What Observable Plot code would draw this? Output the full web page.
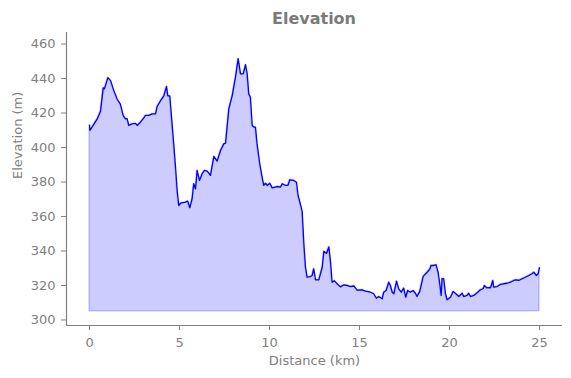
<!DOCTYPE html>
<html>
<head>
<meta charset="utf-8">
<script src="https://cdn.jsdelivr.net/npm/d3@7"></script>
<script src="https://cdn.jsdelivr.net/npm/@observablehq/plot@0.6"></script>
<style>
  html, body { margin: 0; padding: 0; background: #fff; }
  #title { width: 628px; height: 32px; line-height: 37px; text-align: center;
    font-family: "DejaVu Sans", sans-serif; font-weight: bold; font-size: 16px; color: #7a7a7a; }
</style>
</head>
<body>
<div id="title">Elevation</div>
<div id="chart"></div>
<script>
const distance = [0, 0.02, 0.15, 0.43, 0.61, 0.76, 0.83, 1.02, 1.17, 1.35, 1.54, 1.72, 1.87, 2.0, 2.09, 2.18, 2.37, 2.56, 2.65, 2.83, 3.02, 3.11, 3.3, 3.48, 3.67, 3.76, 3.94, 4.13, 4.28, 4.35, 4.46, 4.68, 4.78, 4.87, 4.96, 5.06, 5.33, 5.46, 5.57, 5.7, 5.79, 5.89, 5.98, 6.11, 6.26, 6.39, 6.54, 6.72, 6.91, 7.09, 7.28, 7.46, 7.56, 7.74, 7.93, 8.11, 8.26, 8.39, 8.54, 8.67, 8.76, 8.85, 8.94, 9.04, 9.13, 9.22, 9.31, 9.46, 9.59, 9.68, 9.78, 9.87, 10.02, 10.15, 10.43, 10.61, 10.71, 10.89, 11.02, 11.13, 11.35, 11.5, 11.59, 11.76, 11.82, 11.91, 12.0, 12.09, 12.28, 12.37, 12.46, 12.56, 12.74, 12.93, 13.02, 13.17, 13.3, 13.39, 13.48, 13.61, 13.76, 13.94, 14.13, 14.31, 14.5, 14.69, 14.87, 15.15, 15.33, 15.61, 15.79, 15.94, 16.07, 16.26, 16.35, 16.48, 16.63, 16.72, 16.82, 16.91, 17.06, 17.18, 17.32, 17.46, 17.57, 17.68, 17.83, 17.98, 18.11, 18.2, 18.35, 18.54, 18.76, 18.91, 18.98, 19.13, 19.26, 19.37, 19.46, 19.54, 19.59, 19.68, 19.78, 19.87, 20.06, 20.2, 20.33, 20.52, 20.71, 20.79, 20.98, 21.07, 21.17, 21.35, 21.57, 21.72, 21.87, 21.94, 22.06, 22.28, 22.41, 22.46, 22.65, 22.83, 23.02, 23.2, 23.39, 23.57, 23.72, 23.85, 24.04, 24.22, 24.41, 24.59, 24.69, 24.83, 24.93, 25.0];
const elevation = [413, 410, 412, 416.6, 421, 434.6, 434, 440.5, 438.8, 433, 428, 425, 418.6, 416.6, 416.8, 412.8, 413.7, 414, 412.8, 414.7, 417.2, 418.6, 418.6, 419.5, 419.5, 423.8, 427, 430, 435.5, 430, 430, 402, 388.6, 375, 366.4, 367.7, 368.3, 368.9, 365, 370.3, 379, 376, 386.7, 380.9, 384.8, 386.7, 386.3, 383.8, 394.8, 392.1, 398.3, 402.1, 402.5, 422.4, 430.1, 440.8, 451.5, 442.7, 442.7, 448, 442.7, 431.1, 429.2, 412.8, 411.8, 411.8, 402.1, 390.6, 382.8, 378, 379.3, 378, 379.3, 376.6, 377.4, 377, 379, 378, 378, 381.3, 380.9, 379.9, 372.2, 365.4, 362.5, 344.2, 330.6, 324.8, 325.2, 325.8, 329.7, 323.3, 323.3, 330.6, 339.8, 338.6, 342.4, 334, 321.9, 322.7, 321, 319.2, 320.3, 320, 319.4, 319.7, 317.3, 317.5, 316.7, 316.1, 315.2, 312.6, 313.6, 312.3, 316.1, 317.1, 321.9, 320, 316.1, 315.2, 322.5, 318.1, 316.1, 318.5, 313.2, 317.1, 316.1, 317.1, 315.5, 313.6, 316.6, 325.3, 327.7, 329.5, 331.6, 331.6, 332, 327.7, 321, 314.2, 323.9, 323.9, 315.2, 311.7, 313.2, 316.5, 315.5, 313.6, 315.5, 313.6, 314.2, 315.5, 313.6, 314.2, 316.1, 317.5, 318.1, 320, 318.7, 318.7, 322.9, 319, 319.4, 320.6, 321, 321.3, 321.9, 322.9, 323.3, 322.9, 323.9, 324.8, 325.8, 326.8, 327.7, 325.8, 326.8, 330.3];
const baseline = 305;
const xTicks = [0, 5, 10, 15, 20, 25];
const yTicks = [300, 320, 340, 360, 380, 400, 420, 440, 460];
const xDomain = [-1.28, 26.28];
const yDomain = [296.8, 466.7];

const data = distance.map((d, i) => ({distance: d, elevation: elevation[i]}));
const gray = "#808080";

const chart = Plot.plot({
  width: 571,
  height: 346,
  marginLeft: 66,
  marginRight: 9,
  marginTop: 0,
  marginBottom: 53,
  style: {fontFamily: "DejaVu Sans, sans-serif", fontSize: "13px", color: gray, background: "white"},
  x: {domain: xDomain},
  y: {domain: yDomain},
  marks: [
    Plot.areaY(data, {x: "distance", y1: baseline, y2: "elevation", fill: "blue", fillOpacity: 0.2, stroke: "blue", strokeOpacity: 0.2, strokeWidth: 1.5}),
    Plot.line(data, {x: "distance", y: "elevation", stroke: "blue", strokeWidth: 1.3}),
    Plot.axisX({ticks: xTicks, tickSize: 5, tickPadding: 7, label: null, fontSize: 13, stroke: gray, fill: gray}),
    Plot.axisY({ticks: yTicks, tickSize: 5, tickPadding: 6, label: null, fontSize: 13, stroke: gray, fill: gray}),
    Plot.ruleX([xDomain[0]], {stroke: gray, strokeWidth: 1.2}),
    Plot.ruleY([yDomain[0]], {stroke: gray, strokeWidth: 1.2}),
    Plot.text(["Distance (km)"], {frameAnchor: "bottom", dy: 39, fill: gray, fontSize: 13}),
    Plot.text(["Elevation (m)"], {frameAnchor: "left", dx: -49, rotate: -90, fill: gray, fontSize: 13})
  ]
});
document.getElementById("chart").appendChild(chart);
</script>
</body>
</html>
